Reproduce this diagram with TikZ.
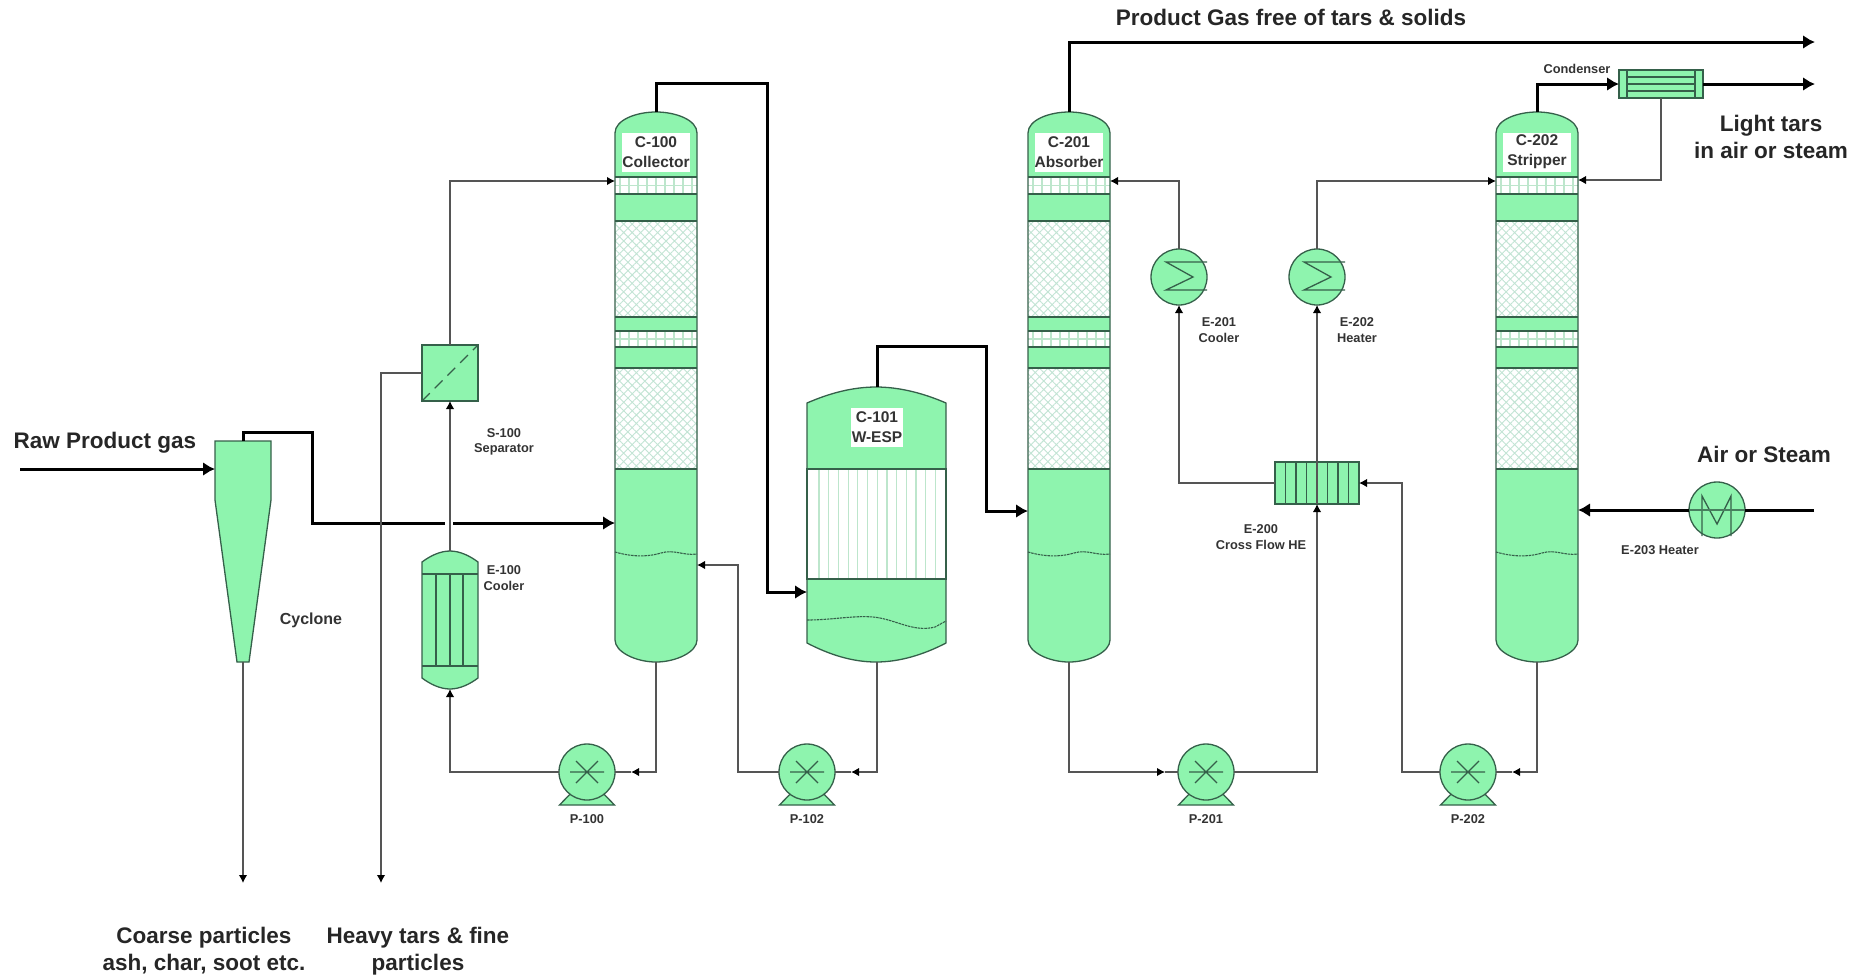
\documentclass[tikz,border=0pt]{standalone}
\usepackage{fontspec}
\setmainfont{Liberation Sans}
\usepackage{xcolor}
\usetikzlibrary{arrows.meta,positioning,calc,patterns.meta}
\definecolor{vesselgreen}{HTML}{8EF4AE}
\definecolor{edgegreen}{HTML}{35604A}
\definecolor{gridgreen}{HTML}{BDE6CC}
\definecolor{meshgreen}{HTML}{C2E4D4}
\definecolor{linegray}{HTML}{555555}
\definecolor{labelgray}{HTML}{333333}
\tikzset{
  kit/.style={draw=edgegreen, fill=vesselgreen, line width=1.3pt, inner sep=0pt, outer sep=0pt},
  innerline/.style={draw=edgegreen, line width=1.3pt},
  ghost/.style={inner sep=0pt, outer sep=0pt},
  tagbox/.style={fill=white, align=center, font=\fontsize{15.5}{20}\selectfont\bfseries, text=labelgray, inner sep=0pt, minimum height=39pt},
  smalltag/.style={align=center, font=\fontsize{12.8}{15.5}\selectfont\bfseries, text=labelgray, inner sep=0pt},
  bigtag/.style={align=center, font=\fontsize{22.5}{27}\selectfont\bfseries, text=black!85, inner sep=0pt},
  bigflow/.style={-{Latex[length=12pt,width=14pt]}, line width=3pt, black},
  bigline/.style={line width=3pt, black},
  thinflow/.style={-{Latex[length=8pt,width=8.5pt,black]}, line width=1.3pt, linegray},
  thinline/.style={line width=1.3pt, linegray}
}
% packed column, name / x / tag
\newcommand{\packedcolumn}[3]{%
  \begin{scope}[shift={(#2,0)}]
    \fill[vesselgreen] (-41,133) .. controls (-41,120) and (-20,112) .. (0,112) .. controls (20,112) and (41,120) .. (41,133) -- (41,640) .. controls (41,652) and (20,662) .. (0,662) .. controls (-20,662) and (-41,652) .. (-41,640) -- cycle;
    \foreach \ya/\yb in {177/194,331/347} {
      \fill[white] (-41,\ya) rectangle (41,\yb);
      \foreach \gx in {-36,-27,...,36} \draw[gridgreen, line width=1.2pt] (\gx,\ya) -- (\gx,\yb);
      \draw[gridgreen, line width=1.2pt] (-41,{(\ya+\yb)/2}) -- (41,{(\ya+\yb)/2});
      \draw[innerline] (-41,\ya) -- (41,\ya) (-41,\yb) -- (41,\yb);
    }
    \foreach \ya/\yb in {221/317,368/469} {
      \path[fill=white] (-41,\ya) rectangle (41,\yb);
      \path[pattern={Hatch[angle=45,distance=6pt,line width=.9pt]}, pattern color=meshgreen] (-41,\ya) rectangle (41,\yb);
      \draw[innerline] (-41,\ya) -- (41,\ya) (-41,\yb) -- (41,\yb);
    }
    \draw[edgegreen, line width=1.1pt, dash pattern=on 2.5pt off .8pt] (-41,552) .. controls (-20,558) and (-5,556) .. (5,553) .. controls (18,549) and (28,556) .. (41,554);
    \draw[innerline] (-41,133) .. controls (-41,120) and (-20,112) .. (0,112) .. controls (20,112) and (41,120) .. (41,133) -- (41,640) .. controls (41,652) and (20,662) .. (0,662) .. controls (-20,662) and (-41,652) .. (-41,640) -- cycle;
  \end{scope}
  \node[ghost, minimum width=82pt, minimum height=550pt] (#1) at (#2,387) {};
  \node[tagbox, minimum width=68pt] (#1tag) at (#2,152) {#3};
}
% pump, name / x / tag
\newcommand{\pumpunit}[3]{%
  \draw[kit] ($(#2,772)+(-27.5,33)$) -- ($(#2,772)+(-13,18)$) -- ($(#2,772)+(13,18)$) -- ($(#2,772)+(27.5,33)$) -- cycle;
  \node[kit, circle, minimum size=56pt] (#1) at (#2,772) {};
  \draw[innerline] ($(#1)+(-17,0)$) -- ($(#1)+(17,0)$) ($(#1)+(-11,-11)$) -- ($(#1)+(11,11)$) ($(#1)+(-11,11)$) -- ($(#1)+(11,-11)$);
  \node[smalltag, below=14pt of #1] (#1tag) {#3};
}
% round exchanger with zigzag
\newcommand{\zigzagunit}[2]{%
  \node[kit, circle, minimum size=56pt] (#1) at (#2,277) {};
  \draw[innerline] ($(#1)+(28,-15)$) -- ($(#1)+(-13,-15)$) -- ($(#1)+(14,0)$) -- ($(#1)+(-13,13)$) -- ($(#1)+(28,13)$);
}
\begin{document}
\begin{tikzpicture}[x=1pt,y=-1pt]
  \useasboundingbox (0,0) rectangle (1862,975);
  % equipment
  \draw[kit] (215,441) -- (271,441) -- (271,500) -- (249,662) -- (237,662) -- (215,500) -- cycle;
  \node[ghost, minimum width=56pt, minimum height=221pt] (cyclone) at (243,551.5) {};
  \node[kit, minimum size=56pt] (s100) at (450,373) {};
  \draw[edgegreen, line width=1.3pt, dash pattern=on 11pt off 7pt] (s100.south west) -- (s100.north east);
  \draw[kit] (422,562) .. controls (430,556) and (440,551) .. (450,551) .. controls (460,551) and (470,556) .. (478,562) -- (478,678) .. controls (470,684) and (460,689) .. (450,689) .. controls (440,689) and (430,684) .. (422,678) -- cycle;
  \node[ghost, minimum width=56pt, minimum height=138pt] (e100) at (450,620) {};
  \draw[innerline] (422,574) -- (478,574) (422,666) -- (478,666);
  \foreach \tx in {436,450,463} \draw[innerline] (\tx,574) -- (\tx,666);
  \packedcolumn{c100}{656}{C-100\\Collector}
  \packedcolumn{c201}{1069}{C-201\\Absorber}
  \packedcolumn{c202}{1537}{C-202\\Stripper}
  % wet esp
  \draw[kit] (807,403) .. controls (830,393) and (853,387) .. (876,387) .. controls (899,387) and (923,393) .. (946,403) -- (946,643) .. controls (923,655) and (899,662) .. (876,662) .. controls (853,662) and (830,655) .. (807,643) -- cycle;
  \fill[white] (807,469) rectangle (946,579);
  \foreach \gx in {819,828.7,...,937} \draw[gridgreen, line width=1.2pt] (\gx,469) -- (\gx,579);
  \draw[innerline] (807,469) rectangle (946,579);
  \draw[edgegreen, line width=1.1pt, dash pattern=on 2.5pt off .8pt] (807,620) .. controls (835,620) and (860,614) .. (880,618) .. controls (900,622) and (915,632) .. (935,627) -- (946,621);
  \node[ghost, minimum width=140pt, minimum height=275pt] (c101) at (877,524.5) {};
  \node[tagbox, minimum width=52pt] (c101tag) at (877,427.5) {C-101\\W-ESP};
  \pumpunit{p100}{587}{P-100}
  \pumpunit{p102}{807}{P-102}
  \pumpunit{p201}{1206}{P-201}
  \pumpunit{p202}{1468}{P-202}
  \zigzagunit{e201}{1179}
  \zigzagunit{e202}{1317}
  \node[kit, minimum width=84pt, minimum height=42pt] (e200) at (1317,483) {};
  \foreach \tx in {1285.5,1296,1306.5,1317,1327.5,1338,1348.5} \draw[innerline] (\tx,462) -- (\tx,504);
  \node[kit, minimum width=84pt, minimum height=28pt] (e300) at (1661,84) {};
  \draw[innerline] (1627,70) -- (1627,98) (1695,70) -- (1695,98);
  \foreach \ty in {77,84,91} \draw[innerline] (1627,\ty) -- (1695,\ty);
  \node[kit, circle, minimum size=56pt] (e203) at (1717,510) {};
  \draw[innerline] ($(e203)+(-15,26)$) -- ($(e203)+(-15,-14)$) -- ($(e203)+(0,14)$) -- ($(e203)+(14,-14)$) -- ($(e203)+(14,26)$);
  \draw[edgegreen!80!vesselgreen, line width=1.3pt] (e203.west) -- (e203.east);
  % free ends and ports
  \coordinate (rawgas) at (20,469);
  \coordinate (gapa) at (445,523);
  \coordinate (gapb) at (453,523);
  \coordinate (coarse) at (243,883);
  \coordinate (heavy) at (381,883);
  \coordinate (productgas) at (1815,42);
  \coordinate (lighttars) at (1815,84);
  \coordinate (airin) at (1814,510);
  \coordinate (p100in) at (631,772);
  \coordinate (p102in) at (851,772);
  \coordinate (p201in) at (1165,772);
  \coordinate (p202in) at (1512,772);
  % heavy streams
  \draw[bigflow] (rawgas) -- (cyclone.west |- rawgas);
  \draw[bigline] (cyclone.north) |- (312,432) |- (gapa);
  \draw[bigflow] (gapb) -- (c100.west |- gapb);
  \draw[bigflow] (c100.north) |- (767,83) |- (c101.west |- 0,592);
  \draw[bigflow] (c101.north) |- (986,346) |- (c201.west |- 0,511);
  \draw[bigflow] (c201.north) |- (productgas);
  \draw[bigflow] (c202.north) |- (e300.west);
  \draw[bigflow] (e300.east) -- (lighttars);
  \draw[bigline] (airin) -- (e203.east);
  \draw[bigflow] (e203.west) -- (c202.east |- e203.west);
  % thin streams
  \draw[thinflow] (cyclone.south) -- (coarse);
  \draw[thinflow] (s100.west) -| (heavy);
  \draw[thinflow] (s100.north) |- (c100.west |- 0,181);
  \draw[thinflow] (e100.north) -- (s100.south);
  \draw[thinflow] (c100.south) |- (p100in);
  \draw[thinline] (p100in) -- (p100.east);
  \draw[thinflow] (p100.west) -| (e100.south);
  \draw[thinflow] (c101.south) |- (p102in);
  \draw[thinline] (p102in) -- (p102.east);
  \draw[thinflow] (p102.west) -| (738,565) -- (c100.east |- 0,565);
  \draw[thinflow] (c201.south) |- (p201in);
  \draw[thinline] (p201in) -- (p201.west);
  \draw[thinflow] (p201.east) -| (e200.south);
  \draw[thinflow] (e200.south) -- (e202.south);
  \draw[thinflow] (e200.west) -| (e201.south);
  \draw[thinflow] (e201.north) |- (c201.east |- 0,181);
  \draw[thinflow] (e202.north) |- (c202.west |- 0,181);
  \draw[thinflow] (c202.south) |- (p202in);
  \draw[thinline] (p202in) -- (p202.east);
  \draw[thinline] (p202.west) -| (1402,630);
  \draw[thinflow] (1402,630) |- (e200.east);
  \draw[thinflow] (e300.south) |- (c202.east |- 0,180);
  % labels
  \node[bigtag] (toplabel) at (1291,17) {Product Gas free of tars \& solids};
  \node[bigtag] (rawlabel) at (105,443) {Raw Product gas};
  \node[bigtag] (lightlabel) at (1771,137) {Light tars\\in air or steam};
  \node[bigtag] (airlabel) at (1764,454) {Air or Steam};
  \node[bigtag] (coarselabel) at (204,951) {Coarse particles\\ash, char, soot etc.};
  \node[bigtag] (heavylabel) at (418,951) {Heavy tars \& fine\\particles};
  \node[smalltag] (s100tag) at (504,442) {S-100\\Separator};
  \node[smalltag] (e100tag) at (504,578) {E-100\\Cooler};
  \node[smalltag, font=\fontsize{16}{20}\selectfont\bfseries] (cyclonetag) at (311,620) {Cyclone};
  \node[smalltag] (e201tag) at (1219,330) {E-201\\Cooler};
  \node[smalltag] (e202tag) at (1357,330) {E-202\\Heater};
  \node[smalltag] (e200tag) at (1261,537) {E-200\\Cross Flow HE};
  \node[smalltag] (e300tag) at (1577,69) {Condenser};
  \node[smalltag] (e203tag) at (1660,550) {E-203 Heater};
\end{tikzpicture}
\end{document}
